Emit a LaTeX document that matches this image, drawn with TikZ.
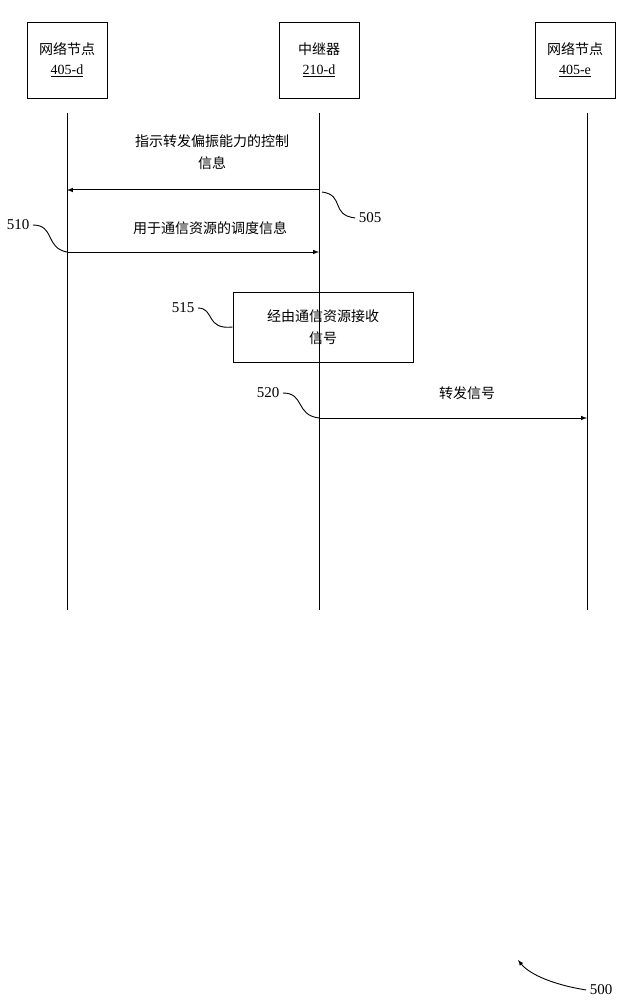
\documentclass[tikz,border=0pt]{standalone}
\usepackage{fontspec}
\setmainfont{Liberation Serif}
\newfontfamily\cjk{Noto Sans CJK SC}
\begin{document}
\begin{tikzpicture}[x=1pt,y=-1pt,
  ent/.style={draw,line width=0.8pt,minimum width=80pt,minimum height=76pt,align=center,font=\fontsize{14}{20}\selectfont},
  life/.style={line width=1pt},
  msg/.style={line width=1pt,-latex},
  lbl/.style={font=\fontsize{14}{22}\selectfont\cjk,align=center},
  num/.style={font=\fontsize{15}{18}\selectfont},
  sq/.style={line width=0.9pt}]
\useasboundingbox (0,0) rectangle (634,1000);
\node[ent] (a) at (67,60) {{\cjk 网络节点}\\\underline{405-d}};
\node[ent] (b) at (319,60) {{\cjk 中继器}\\\underline{210-d}};
\node[ent] (c) at (575,60) {{\cjk 网络节点}\\\underline{405-e}};
\coordinate (a1) at (67,113); \coordinate (a2) at (67,610);
\coordinate (b1) at (319,113); \coordinate (b2) at (319,610);
\coordinate (c1) at (587,113); \coordinate (c2) at (587,610);
\draw[life] (a1)--(a2); \draw[life] (b1)--(b2); \draw[life] (c1)--(c2);
\coordinate (m1s) at (319,190); \coordinate (m1e) at (67,190);
\draw[msg] (m1s)--(m1e);
\node[lbl] (l1) at (212,152) {指示转发偏振能力的控制\\信息};
\node[num] (n505) at (370,218) {505};
\draw[sq] (322,192) .. controls (345,195) and (330,215) .. (n505.west);
\coordinate (m2s) at (67,252); \coordinate (m2e) at (319,252);
\draw[msg] (m2s)--(m2e);
\node[lbl] (l2) at (210,228) {用于通信资源的调度信息};
\node[num] (n510) at (18,225) {510};
\draw[sq] (n510.east) .. controls (55,225) and (45,248) .. (m2s);
\node[draw,line width=0.8pt,minimum width=180pt,minimum height=70pt,lbl] (r) at (323,327) {经由通信资源接收\\信号};
\node[num] (n515) at (183,308) {515};
\draw[sq] (n515.east) .. controls (215,308) and (205,330) .. (r.west);
\coordinate (m3s) at (319,418); \coordinate (m3e) at (587,418);
\draw[msg] (m3s)--(m3e);
\node[lbl] (l3) at (467,393) {转发信号};
\node[num] (n520) at (268,393) {520};
\draw[sq] (n520.east) .. controls (305,393) and (295,415) .. (m3s);
\node[num] (n500) at (601,990) {500};
\draw[sq,-latex] (n500.west) .. controls (555,985) and (530,975) .. (518,960);
\end{tikzpicture}
\end{document}
